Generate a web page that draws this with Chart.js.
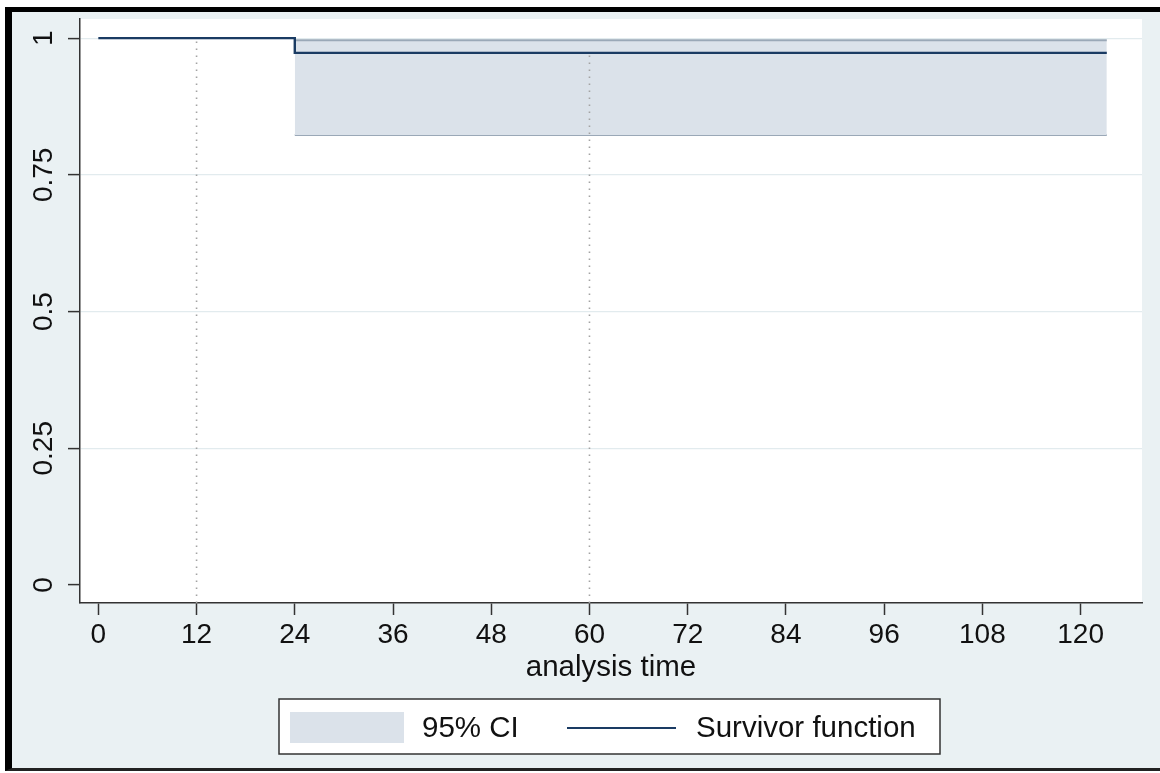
<!DOCTYPE html>
<html>
<head>
<meta charset="utf-8">
<title>Kaplan-Meier survivor function</title>
<script src="https://cdn.jsdelivr.net/npm/chart.js@4.4.1/dist/chart.umd.min.js"></script>
<style>
  html, body { margin: 0; padding: 0; background: #ffffff; }
  #frame {
    position: absolute; left: 5px; top: 7px; width: 1148px; height: 756px;
    background: #eaf1f3;
    border-left: 7px solid #000; border-top: 5px solid #000; border-bottom: 3px solid #222;
  }
  #km { position: absolute; left: 0; top: 0; }
</style>
</head>
<body>
<div id="frame"></div>
<canvas id="km" width="1160" height="773"></canvas>
<script>
// Kaplan-Meier estimate: time of each change in S(t), plus last follow-up time
const eventTimes = [0, 24, 123.2];
const survival   = [1, 0.973, 0.973];
const ciLower    = [null, 0.823, 0.823];
const ciUpper    = [null, 0.996, 0.996];

// reference times marked with dotted drop lines
const markTimes = [12, 60];

const xTicks = [0, 12, 24, 36, 48, 60, 72, 84, 96, 108, 120];
const yTicks = [0, 0.25, 0.5, 0.75, 1];
const yTickLabels = ['0', '0.25', '0.5', '0.75', '1'];

const xTitle = 'analysis time';
const ciLabel = '95% CI';
const survLabel = 'Survivor function';

// axis ranges
const X_MIN = -2.24, X_MAX = 127.5;
const Y_MIN = -0.033, Y_MAX = 1.035;

const FONT = '"Liberation Sans", Arial, Helvetica, sans-serif';
const TICK_SIZE = 28;
const TEXT_SIZE = 29.5;
const NAVY = '#1a3b63';
const BAND = '#dbe2ea';
const BAND_EDGE = '#9aa8b7';

function pts(xs, ys) {
  const out = [];
  xs.forEach((x, i) => { if (ys[i] !== null) out.push({ x: x, y: ys[i] }); });
  return out;
}

// step-function lookup of S(t)
function survivalAt(t) {
  let s = survival[0];
  eventTimes.forEach((et, i) => { if (et <= t) s = survival[i]; });
  return s;
}

const markSets = markTimes.map(t => ({
  label: 'mark ' + t,
  data: [{ x: t, y: Y_MIN }, { x: t, y: survivalAt(t) }],
  borderColor: '#a3a3a3',
  borderWidth: 1.6,
  borderDash: [1.6, 5.4],
  pointRadius: 0,
  fill: false,
  order: 1
}));

const datasets = [
  {
    label: ciLabel + ' lower',
    data: pts(eventTimes, ciLower),
    borderColor: BAND_EDGE, borderWidth: 2, pointRadius: 0,
    stepped: 'before', fill: false, order: 3
  },
  {
    label: ciLabel,
    data: pts(eventTimes, ciUpper),
    borderColor: BAND_EDGE, borderWidth: 2, pointRadius: 0,
    backgroundColor: BAND,
    stepped: 'before', fill: '-1', order: 2
  },
  {
    label: survLabel,
    data: pts(eventTimes, survival),
    borderColor: NAVY, borderWidth: 2.4, pointRadius: 0,
    stepped: 'before', fill: false, order: 0
  }
].concat(markSets);

// white plot region
const plotBackground = {
  id: 'plotBackground',
  beforeDraw(chart) {
    const { ctx, chartArea: a } = chart;
    ctx.save();
    ctx.fillStyle = '#ffffff';
    ctx.fillRect(a.left, a.top, a.right - a.left, a.bottom - a.top);
    ctx.restore();
  }
};

// vertical y tick labels, reading bottom to top
const yLabels = {
  id: 'yLabels',
  afterDraw(chart) {
    const { ctx } = chart;
    const y = chart.scales.y;
    ctx.save();
    ctx.fillStyle = '#111';
    ctx.font = TICK_SIZE + 'px ' + FONT;
    ctx.textAlign = 'center';
    ctx.textBaseline = 'middle';
    yTicks.forEach((v, i) => {
      const py = y.getPixelForValue(v);
      ctx.save();
      ctx.translate(44, py);
      ctx.rotate(-Math.PI / 2);
      ctx.fillText(yTickLabels[i], 0, 0);
      ctx.restore();
    });
    ctx.restore();
  }
};

// boxed legend under the axis title
const boxLegend = {
  id: 'boxLegend',
  afterDraw(chart) {
    const { ctx } = chart;
    const band = chart.data.datasets[1];
    const surv = chart.data.datasets[2];
    ctx.save();
    ctx.fillStyle = '#ffffff';
    ctx.fillRect(279, 699, 661, 55);
    ctx.strokeStyle = '#333';
    ctx.lineWidth = 1.5;
    ctx.strokeRect(279, 699, 661, 55);
    ctx.fillStyle = band.backgroundColor;
    ctx.fillRect(290, 712, 114, 31);
    ctx.strokeStyle = surv.borderColor;
    ctx.lineWidth = 2;
    ctx.beginPath();
    ctx.moveTo(567, 728);
    ctx.lineTo(676, 728);
    ctx.stroke();
    ctx.fillStyle = '#111';
    ctx.font = TEXT_SIZE + 'px ' + FONT;
    ctx.textAlign = 'left';
    ctx.textBaseline = 'middle';
    ctx.fillText(band.label, 422, 729);
    ctx.fillText(surv.label, 696, 729);
    ctx.restore();
  }
};

new Chart(document.getElementById('km'), {
  type: 'line',
  data: { datasets: datasets },
  plugins: [plotBackground, yLabels, boxLegend],
  options: {
    responsive: false,
    animation: false,
    devicePixelRatio: 1,
    layout: { padding: { left: 0, top: 19, right: 18, bottom: 0 } },
    plugins: { legend: { display: false }, tooltip: { enabled: false } },
    scales: {
      x: {
        type: 'linear', min: X_MIN, max: X_MAX,
        afterBuildTicks(scale) { scale.ticks = xTicks.map(v => ({ value: v })); },
        afterFit(scale) { scale.height = 170; },
        grid: { drawOnChartArea: false, drawTicks: true, tickLength: 12, tickColor: '#333', tickWidth: 1.5 },
        border: { display: true, color: '#333', width: 1.5 },
        ticks: {
          padding: 3, color: '#111', autoSkip: false, maxRotation: 0,
          font: { size: TICK_SIZE, family: FONT },
          callback: v => String(v)
        },
        title: {
          display: true, text: xTitle, color: '#111',
          font: { size: TEXT_SIZE, family: FONT },
          padding: { top: 0, bottom: 87 }
        }
      },
      y: {
        type: 'linear', min: Y_MIN, max: Y_MAX,
        afterBuildTicks(scale) { scale.ticks = yTicks.map(v => ({ value: v })); },
        afterFit(scale) { scale.width = 80; },
        grid: {
          drawTicks: true, tickLength: 12, tickWidth: 1.5, tickColor: '#333',
          color: ctx => (ctx.tick && ctx.tick.value === 0) ? 'rgba(0,0,0,0)' : '#e2ebee',
          lineWidth: 1.2
        },
        border: { display: true, color: '#333', width: 1.5 },
        ticks: { display: false }
      }
    }
  }
});
</script>
</body>
</html>
